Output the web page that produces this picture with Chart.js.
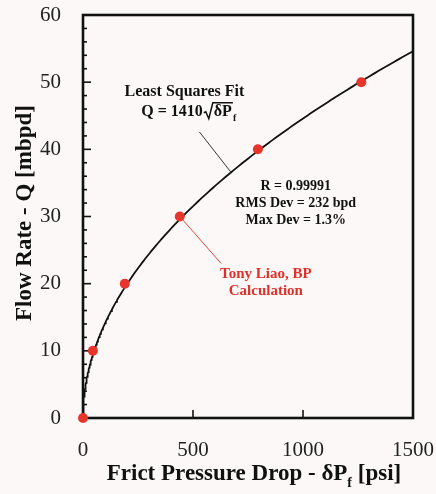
<!DOCTYPE html>
<html>
<head>
<meta charset="utf-8">
<script src="https://cdn.jsdelivr.net/npm/chart.js@4.4.1/dist/chart.umd.min.js"></script>
<style>
  html, body { margin: 0; padding: 0; background: #fcf8f8; }
  #wrap { width: 436px; height: 494px; }
</style>
</head>
<body>
<div id="wrap"><canvas id="flowChart" width="436" height="494"></canvas></div>
<script>
// measured flow points: frictional pressure drop [psi] vs flow rate [mbpd]
const pressureDrop = [0, 45, 190, 440, 795, 1265];
const flowRate = [0, 10, 20, 30, 40, 50];

// least squares fit Q = 1410 * sqrt(dPf), Q in bpd
const fitCoef = 1410;

const xTicks = [0, 500, 1000, 1500];
const yTicks = [0, 10, 20, 30, 40, 50, 60];
const yMinorStep = 2;

const serif = "'Liberation Serif', 'Times New Roman', serif";

// fit curve sampled densely near zero where sqrt is steep
const fitX = [];
for (let i = 0; i <= 240; i++) fitX.push(1500 * Math.pow(i / 240, 2));
const fitPoints = fitX.map(x => ({ x: x, y: fitCoef * Math.sqrt(x) / 1000 }));

const calcPoints = pressureDrop.map((x, i) => ({ x: x, y: flowRate[i] }));

// frame + inward ticks
const framePlugin = {
    id: 'frame',
    beforeDatasetsDraw(chart) {
        const c = chart.ctx, a = chart.chartArea;
        const xs = chart.scales.x, ys = chart.scales.y;
        c.save();
        c.strokeStyle = '#111';
        c.lineWidth = 1.6;
        for (let v = 0; v <= 60; v += yMinorStep) {
            const py = ys.getPixelForValue(v);
            const len = v % 10 === 0 ? 8 : 4;
            c.beginPath(); c.moveTo(a.left, py); c.lineTo(a.left + len, py); c.stroke();
        }
        xTicks.slice(1, -1).forEach(v => {
            const px = xs.getPixelForValue(v);
            c.beginPath(); c.moveTo(px, a.bottom); c.lineTo(px, a.bottom - 8); c.stroke();
        });
        c.lineWidth = 2.6;
        c.strokeRect(a.left, a.top, a.right - a.left, a.bottom - a.top);
        c.restore();
    }
};

// axis titles, fit formula and notes
const labelPlugin = {
    id: 'labels',
    afterDatasetsDraw(chart) {
        const c = chart.ctx;
        const xs = chart.scales.x, ys = chart.scales.y;
        const X = v => xs.getPixelForValue(v), Y = v => ys.getPixelForValue(v);
        c.save();
        c.fillStyle = '#111';
        c.strokeStyle = '#111';
        c.textBaseline = 'middle';

        // y axis title
        c.save();
        c.translate(25, 213);
        c.rotate(-Math.PI / 2);
        c.textAlign = 'center';
        c.font = 'bold 23px ' + serif;
        c.fillText('Flow Rate - Q [mbpd]', 0, 0);
        c.restore();

        // x axis title with subscript
        const t1 = 'Frict Pressure Drop - \u03b4P', t2 = ' [psi]';
        c.font = 'bold 23px ' + serif;
        const w1 = c.measureText(t1).width;
        const w2 = c.measureText(t2).width;
        c.font = 'bold 14px ' + serif;
        const ws = c.measureText('f').width;
        const x0 = 254 - (w1 + ws + w2) / 2;
        c.textAlign = 'left';
        c.font = 'bold 23px ' + serif;
        c.fillText(t1, x0, 474);
        c.font = 'bold 14px ' + serif;
        c.fillText('f', x0 + w1, 483);
        c.font = 'bold 23px ' + serif;
        c.fillText(t2, x0 + w1 + ws, 474);

        // fit label
        c.textAlign = 'center';
        c.font = 'bold 16px ' + serif;
        c.fillText('Least Squares Fit', X(461), Y(48.6));
        const fy = Y(45.6);
        const a1 = 'Q = 1410', a2 = '\u03b4P';
        const wa1 = c.measureText(a1).width;
        const wrad = 10;
        const wa2 = c.measureText(a2).width;
        c.font = 'bold 10px ' + serif;
        const wf = c.measureText('f').width;
        const fx = X(476) - (wa1 + wrad + wa2 + wf) / 2;
        c.textAlign = 'left';
        c.font = 'bold 16px ' + serif;
        c.fillText(a1, fx, fy);
        // radical sign over dPf
        const rx = fx + wa1 + 1;
        c.lineWidth = 1.5;
        c.beginPath();
        c.moveTo(rx, fy + 1);
        c.lineTo(rx + 2, fy);
        c.lineTo(rx + 5, fy + 7);
        c.lineTo(rx + 9, fy - 9);
        c.lineTo(rx + wrad + wa2 + 1, fy - 9);
        c.stroke();
        c.fillText(a2, rx + wrad, fy + 0.5);
        c.font = 'bold 10px ' + serif;
        c.fillText('f', rx + wrad + wa2 + 1, fy + 7);

        // leader to fit curve
        c.strokeStyle = '#333';
        c.lineWidth = 1;
        c.beginPath();
        c.moveTo(X(529), Y(42.6));
        c.lineTo(X(673), Y(fitCoef * Math.sqrt(673) / 1000));
        c.stroke();

        // fit statistics
        c.textAlign = 'center';
        c.font = 'bold 14px ' + serif;
        c.fillText('R = 0.99991', X(967), Y(34.5));
        c.fillText('RMS Dev = 232 bpd', X(967), Y(31.9));
        c.fillText('Max Dev = 1.3%', X(967), Y(29.4));

        // red note with leader to the 30 mbpd point
        c.strokeStyle = '#e0463c';
        c.lineWidth = 1;
        c.beginPath();
        c.moveTo(X(pressureDrop[3]), Y(flowRate[3]));
        c.lineTo(X(628), Y(23.0));
        c.stroke();
        c.fillStyle = '#e0302a';
        c.font = 'bold 15px ' + serif;
        c.fillText('Tony Liao, BP', X(831), Y(21.4));
        c.fillText('Calculation', X(831), Y(18.9));
        c.restore();
    }
};

const ctx = document.getElementById('flowChart').getContext('2d');
new Chart(ctx, {
    type: 'scatter',
    data: {
        datasets: [
            {
                label: 'Calculation',
                data: calcPoints,
                backgroundColor: '#e8352c',
                borderWidth: 0,
                pointRadius: 5,
                clip: false
            },
            {
                label: 'Least Squares Fit',
                type: 'line',
                data: fitPoints,
                borderColor: '#111',
                borderWidth: 1.8,
                pointRadius: 0,
                tension: 0,
                fill: false
            }
        ]
    },
    options: {
        responsive: false,
        animation: false,
        events: [],
        layout: { padding: { left: 0, top: 15, right: 23, bottom: 0 } },
        plugins: { legend: { display: false }, tooltip: { enabled: false } },
        scales: {
            x: {
                type: 'linear', min: 0, max: 1500,
                grid: { display: false }, border: { display: false },
                afterBuildTicks: s => { s.ticks = xTicks.map(v => ({ value: v })); },
                ticks: {
                    color: '#222', padding: 12, maxRotation: 0,
                    font: { family: serif, size: 21 },
                    callback: v => String(v)
                },
                afterFit: s => { s.height = 76; s.paddingLeft = 0; s.paddingRight = 0; }
            },
            y: {
                type: 'linear', min: 0, max: 60,
                grid: { display: false }, border: { display: false },
                afterBuildTicks: s => { s.ticks = yTicks.map(v => ({ value: v })); },
                ticks: {
                    color: '#222', padding: 14,
                    font: { family: serif, size: 21 },
                    callback: v => String(v)
                },
                afterFit: s => { s.width = 83; s.paddingTop = 0; s.paddingBottom = 0; }
            }
        }
    },
    plugins: [framePlugin, labelPlugin]
});
</script>
</body>
</html>
